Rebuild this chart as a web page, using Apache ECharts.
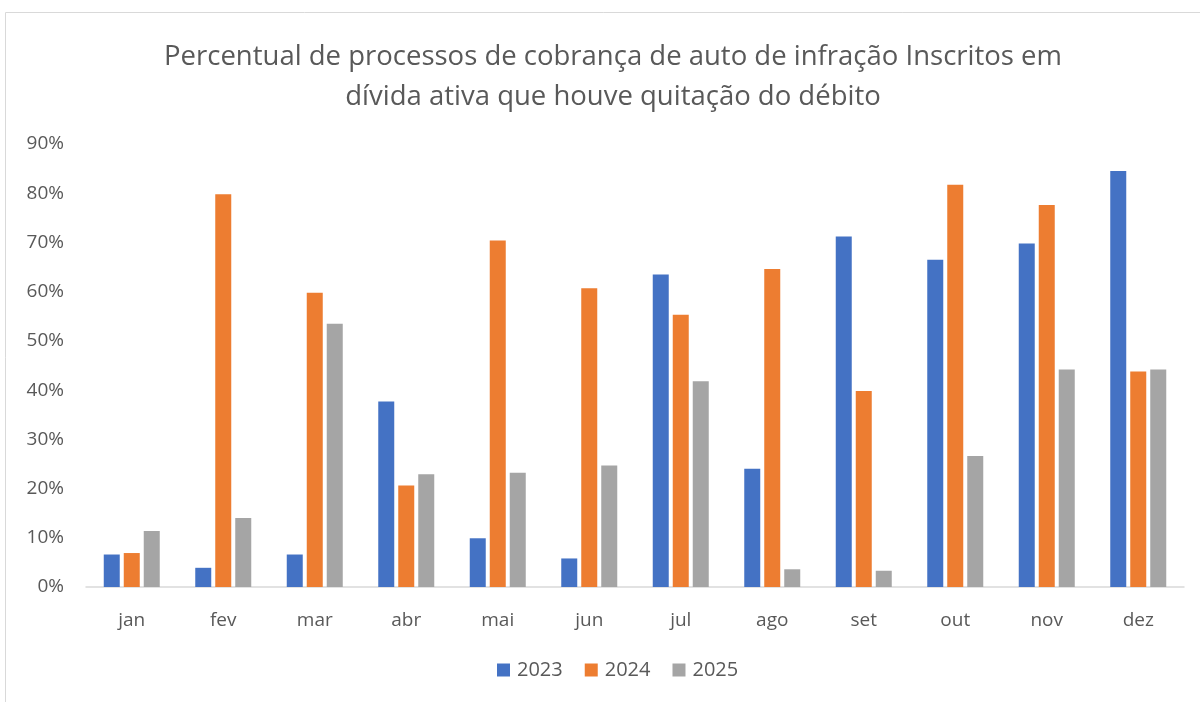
<!DOCTYPE html>
<html>
<head>
<meta charset="utf-8">
<script src="https://cdn.jsdelivr.net/npm/echarts@6/dist/echarts.min.js"></script>
<style>
    html, body { margin: 0; padding: 0; background: #fff; }
    #chart { width: 1200px; height: 702px; }
</style>
</head>
<body>
<div id="chart"></div>
<script>
const months = ['jan', 'fev', 'mar', 'abr', 'mai', 'jun', 'jul', 'ago', 'set', 'out', 'nov', 'dez'];
const values2023 = [6.6, 3.9, 6.6, 37.7, 9.9, 5.8, 63.5, 24.0, 71.2, 66.5, 69.8, 84.5];
const values2024 = [6.9, 79.8, 59.8, 20.6, 70.4, 60.7, 55.3, 64.6, 39.8, 81.7, 77.6, 43.8];
const values2025 = [11.4, 14.0, 53.5, 22.9, 23.2, 24.7, 41.8, 3.6, 3.3, 26.6, 44.2, 44.2];

const textColor = '#595959';
const fontFamily = '"Open Sans", "Noto Sans", sans-serif';

const chart = echarts.init(document.querySelector('#chart'));
chart.setOption({
    animation: false,
    textStyle: { fontFamily },
    graphic: [
        {
            type: 'rect',
            shape: { x: 5.5, y: 12.5, width: 1300, height: 800 },
            style: { fill: 'none', stroke: '#d9d9d9', lineWidth: 1 },
            silent: true
        }
    ],
    title: {
        text: 'Percentual de processos de cobrança de auto de infração Inscritos em\ndívida ativa que houve quitação do débito',
        left: 608,
        textAlign: 'center',
        top: 32,
        textStyle: {
            color: textColor,
            fontSize: 27.5,
            fontWeight: 'normal',
            lineHeight: 40
        }
    },
    legend: {
        data: ['2023', '2024', '2025'],
        bottom: 17,
        left: 492,
        icon: 'rect',
        itemWidth: 13,
        itemHeight: 13,
        itemGap: 22,
        textStyle: { color: textColor, fontSize: 20, padding: [0, 0, 0, 2] }
    },
    grid: {
        left: 86,
        right: 16,
        top: 144,
        bottom: 115,
        containLabel: false
    },
    xAxis: {
        type: 'category',
        data: months,
        axisLine: { lineStyle: { color: '#d9d9d9', width: 1.5 } },
        axisTick: { show: false },
        axisLabel: { color: textColor, fontSize: 19, margin: 24 }
    },
    yAxis: {
        type: 'value',
        min: 0,
        max: 90,
        interval: 10,
        splitLine: { show: false },
        axisLine: { show: false },
        axisTick: { show: false },
        axisLabel: {
            color: textColor,
            fontSize: 19,
            margin: 22,
            formatter: '{value}%'
        }
    },
    series: [
        {
            name: '2023',
            type: 'bar',
            data: values2023,
            barWidth: 16,
            barGap: '25%',
            itemStyle: { color: '#4472c4' }
        },
        {
            name: '2024',
            type: 'bar',
            data: values2024,
            barWidth: 16,
            barGap: '25%',
            itemStyle: { color: '#ed7d31' }
        },
        {
            name: '2025',
            type: 'bar',
            data: values2025,
            barWidth: 16,
            barGap: '25%',
            itemStyle: { color: '#a5a5a5' }
        }
    ]
});
</script>
</body>
</html>
